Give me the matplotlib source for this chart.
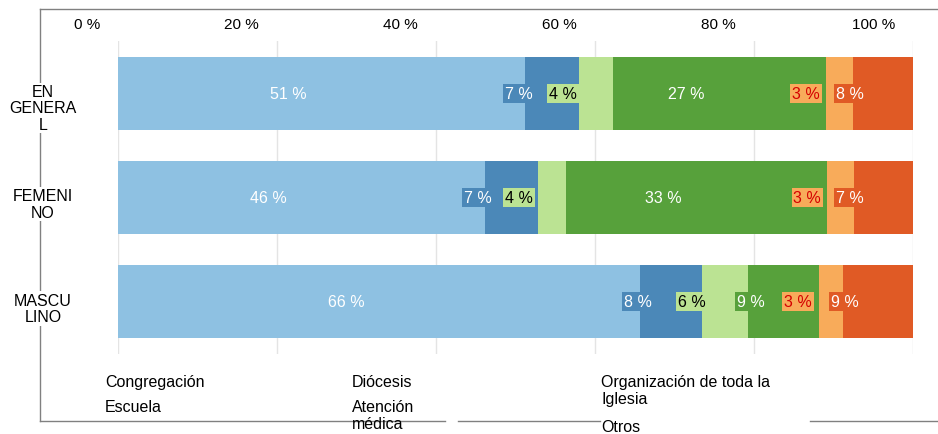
import matplotlib
matplotlib.use("Agg")
import matplotlib.pyplot as plt
from matplotlib.lines import Line2D
import numpy as np

plt.rcParams['font.family'] = ['Liberation Sans', 'DejaVu Sans']

categories = ["EN\nGENERA\nL", "FEMENI\nNO", "MASCU\nLINO"]
series = ["Congregación", "Escuela", "Diócesis", "Atención médica",
          "Organización de toda la Iglesia", "Otros"]
values = {
    "Congregación": [51.2, 46.2, 65.7],
    "Escuela": [6.8, 6.6, 7.7],
    "Diócesis": [4.3, 3.6, 5.9],
    "Atención médica": [26.7, 32.8, 8.9],
    "Organización de toda la Iglesia": [3.4, 3.4, 3.0],
    "Otros": [7.6, 7.4, 8.8],
}
colors = ["#8ec1e2", "#4b88b8", "#bbe393", "#57a13b", "#f8ab5a", "#e05a25"]
text_colors = ["white", "white", "black", "white", "#d40000", "white"]
xticks = [0, 20, 40, 60, 80, 100]
xtick_labels = ["0 %", "20 %", "40 %", "60 %", "80 %", "100 %"]

W, H = 938, 435
fig = plt.figure(figsize=(W / 100, H / 100), dpi=100)
ax = fig.add_axes([118 / W, 1 - 355 / H, 795 / W, 313 / H])

y = np.arange(len(categories))
left = np.zeros(len(categories))
for s, c, tc in zip(series, colors, text_colors):
    v = np.array(values[s], dtype=float)
    ax.barh(y, v, left=left, height=0.70, color=c, edgecolor='none', zorder=2)
    for i in range(len(categories)):
        ax.annotate(f"{round(v[i]):.0f} %", xy=(left[i] + v[i] / 2, y[i]),
                    xytext=(-24, 0), textcoords='offset points',
                    ha='center', va='center', color=tc, fontsize=11.5, zorder=5,
                    bbox=dict(boxstyle='square,pad=0.12', fc=c, ec='none'))
    left += v

ax.set_xlim(0, 100)
ax.set_ylim(2.5, -0.5)
ax.set_xticks(xticks)
ax.set_xticklabels([])
ax.set_yticks([])
ax.tick_params(axis='x', length=0)
ax.grid(axis='x', color='#e4e4e4', lw=1, zorder=0)
for sp in ax.spines.values():
    sp.set_visible(False)

for xv, lab in zip(xticks, xtick_labels):
    ax.annotate(lab, xy=(xv, 1), xycoords=('data', 'axes fraction'),
                xytext=(-13, 12), textcoords='offset points',
                ha='right', va='center', fontsize=11, color='black')

# frame lines (figure pixel coords)
def pline(x0, y0, x1, y1):
    fig.add_artist(Line2D([x0 / W, x1 / W], [1 - y0 / H, 1 - y1 / H],
                          color='#808080', lw=1, zorder=0))

pline(40, 10, W, 10)
pline(40, 10, 40, 422)
pline(40, 422, 445, 422)
pline(458, 422, 600, 422)
pline(810, 422, W, 422)

for i, cat in enumerate(categories):
    ax.annotate(cat, xy=(43 / W, y[i]), xycoords=('figure fraction', 'data'),
                xytext=(0, 6.5), textcoords='offset points',
                ha='center', va='top', multialignment='center', fontsize=11.5,
                linespacing=1.1,
                bbox=dict(boxstyle='square,pad=0.1', fc='white', ec='none'),
                annotation_clip=False)

# legend (text only, as in reference)
legend_pos = [(105, 375), (105, 400), (352, 375), (352, 400), (601, 375), (601, 420)]
legend_text = ["Congregación", "Escuela", "Diócesis", "Atención\nmédica",
               "Organización de toda la\nIglesia", "Otros"]
for (px, py), t in zip(legend_pos, legend_text):
    fig.text(px / W, 1 - py / H, t, ha='left', va='top', fontsize=11.5,
             linespacing=1.15)

fig.savefig("out.png", dpi=100)
